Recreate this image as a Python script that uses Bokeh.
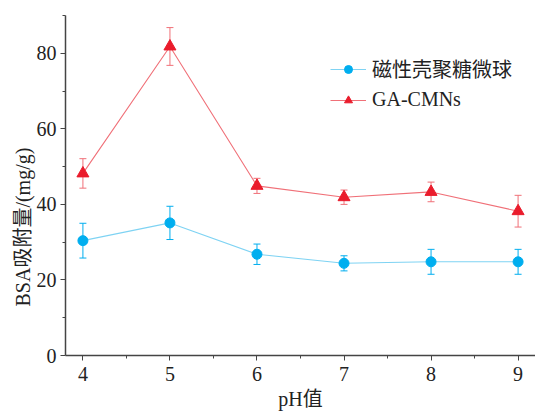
from bokeh.plotting import figure
from bokeh.models import (ColumnDataSource, Range1d, Whisker, TeeHead, Legend, LegendItem,
                          FixedTicker, Title)
from bokeh.embed import file_html
from bokeh.resources import INLINE

ph = [4, 5, 6, 7, 8, 9]
blue_vals = [30.4, 35.1, 26.8, 24.4, 24.8, 24.8]
blue_err = [4.6, 4.4, 2.7, 2.0, 3.3, 3.3]
red_vals = [48.2, 81.8, 44.9, 41.9, 43.3, 38.2]
red_err = [3.9, 5.0, 2.0, 1.9, 2.6, 4.2]
blue_name = "磁性壳聚糖微球"
red_name = "GA-CMNs"
x_label = "pH值"
y_label = "BSA吸附量/(mg/g)"

FONT = "Liberation Serif, Times New Roman, Noto Sans CJK SC"
BLUE = "#00aeef"
BLUE_L = "#7fd3f3"
RED = "#ea1c2c"
RED_L = "#f07078"

p = figure(width=535, height=412, output_backend="svg", toolbar_location=None,
           x_range=Range1d(3.8, 9.2), y_range=Range1d(0, 90),
           min_border_left=65, min_border_right=0, min_border_top=15, min_border_bottom=53)
p.outline_line_color = None
p.grid.grid_line_color = None
p.background_fill_color = "white"

bsrc = ColumnDataSource(dict(x=ph, y=blue_vals,
                             lo=[v - e for v, e in zip(blue_vals, blue_err)],
                             hi=[v + e for v, e in zip(blue_vals, blue_err)]))
rsrc = ColumnDataSource(dict(x=ph, y=red_vals,
                             lo=[v - e for v, e in zip(red_vals, red_err)],
                             hi=[v + e for v, e in zip(red_vals, red_err)]))

for src, col in ((bsrc, BLUE), (rsrc, RED_L)):
    w = Whisker(source=src, base="x", upper="hi", lower="lo", line_color=col, line_width=1,
                upper_head=TeeHead(size=7, line_color=col, line_width=1),
                lower_head=TeeHead(size=7, line_color=col, line_width=1))
    p.add_layout(w)

bl = p.line("x", "y", source=bsrc, line_color=BLUE_L, line_width=1.1)
bm = p.scatter("x", "y", source=bsrc, marker="circle", size=10, fill_color=BLUE, line_color=BLUE)
rl = p.line("x", "y", source=rsrc, line_color=RED_L, line_width=1.1)
rm = p.scatter("x", "y", source=rsrc, marker="triangle", size=12, fill_color=RED, line_color=RED)

legend = Legend(items=[LegendItem(label=blue_name, renderers=[bl, bm]),
                       LegendItem(label=red_name, renderers=[rl, rm])],
                location=(265, 244), border_line_color=None, background_fill_alpha=0,
                label_text_font=FONT, label_text_font_size="20px", label_text_color="#222222",
                glyph_width=36, glyph_height=20, label_height=20, spacing=5,
                padding=8, margin=0, label_standoff=6)
p.add_layout(legend)

for ax in (p.xaxis[0], p.yaxis[0]):
    ax.axis_line_color = "#444444"
    ax.axis_line_width = 1.5
    ax.major_tick_line_color = "#444444"
    ax.minor_tick_line_color = "#444444"
    ax.major_tick_out = 5
    ax.major_tick_in = 0
    ax.minor_tick_out = 3
    ax.minor_tick_in = 0
    ax.major_label_text_font = FONT
    ax.major_label_text_font_size = "20px"
    ax.major_label_text_color = "#222222"
    ax.axis_label_text_font = FONT
    ax.axis_label_text_font_size = "20px"
    ax.axis_label_text_font_style = "normal"
    ax.axis_label_text_color = "#222222"

p.xaxis.ticker = FixedTicker(ticks=ph, minor_ticks=[3.5 + 0.5 * i for i in range(13)])
p.yaxis.ticker = FixedTicker(ticks=[0, 20, 40, 60, 80], minor_ticks=[10, 30, 50, 70, 90])
p.xaxis.axis_label = x_label
p.xaxis.major_label_standoff = 6
p.xaxis.axis_label_standoff = 4
p.yaxis.major_label_standoff = 4

ytitle = Title(text=y_label, align="left", offset=49, text_font=FONT, text_font_size="20px",
               text_font_style="normal", text_color="#222222", standoff=0)
p.add_layout(ytitle, "left")

open("out.html", "w").write(file_html(p, INLINE))
